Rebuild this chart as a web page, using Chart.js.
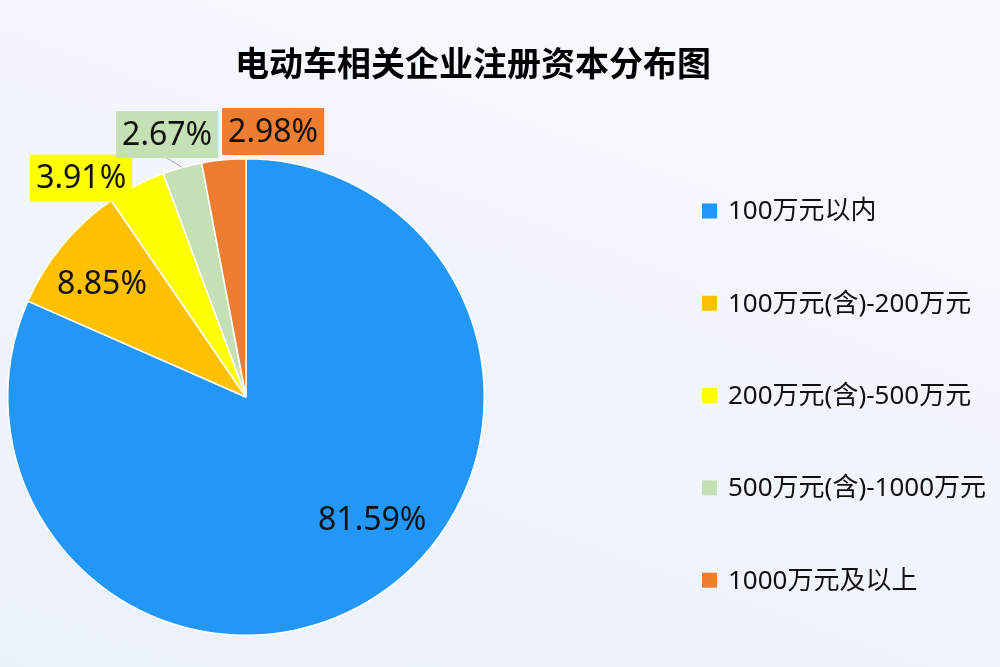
<!DOCTYPE html>
<html>
<head>
<meta charset="utf-8">
<script src="https://cdn.jsdelivr.net/npm/chart.js@4.4.0/dist/chart.umd.min.js"></script>
<style>
  html, body { margin: 0; padding: 0; }
  body {
    width: 1000px; height: 667px; overflow: hidden;
    background: linear-gradient(20deg, #ebf1fb 0%, #f1f5fc 50%, #f8fafe 100%);
  }
  canvas { display: block; }
</style>
</head>
<body>
<canvas id="pie" width="1000" height="667"></canvas>
<script>
// --- DATA ---
const chartTitle = '电动车相关企业注册资本分布图';
const categories = ['100万元以内', '100万元(含)-200万元', '200万元(含)-500万元', '500万元(含)-1000万元', '1000万元及以上'];
const shares = [81.59, 8.85, 3.91, 2.67, 2.98];
const sliceColors = ['#2397F7', '#FFC000', '#FFFF00', '#C5E0B4', '#ED7D31'];

// label placement: fraction of radius, degree shift from slice middle, boxed or not
const labelDist = [0.74, 0.77, 1.15, 1.15, 1.12];
const labelShift = [-12.6, -1.4, -9.6, -1.2, 11.2];
const labelBoxed = [false, false, true, true, true];
const labelLeader = [false, false, false, true, false];

const FONT = '"Noto Sans", "Noto Sans CJK SC", sans-serif';

const decorPlugin = {
  id: 'decor',
  afterDraw(chart) {
    const ctx = chart.ctx;
    ctx.save();

    // title
    ctx.fillStyle = '#000';
    ctx.font = 'bold 34px "Noto Sans CJK SC", sans-serif';
    ctx.textAlign = 'center';
    ctx.textBaseline = 'middle';
    ctx.fillText(chartTitle, 473, 63);

    // percentage labels
    const arcs = chart.getDatasetMeta(0).data;
    ctx.font = '32px ' + FONT;
    arcs.forEach((arc, i) => {
      const mid = (arc.startAngle + arc.endAngle) / 2;
      const a = mid + labelShift[i] * Math.PI / 180;
      const r = arc.outerRadius;
      const lx = arc.x + Math.cos(a) * r * labelDist[i];
      const ly = arc.y + Math.sin(a) * r * labelDist[i];
      const text = shares[i].toFixed(2) + '%';
      const w = ctx.measureText(text).width;
      const boxW = w + 12, boxH = 47;
      if (labelLeader[i]) {
        ctx.strokeStyle = '#a6a6a6';
        ctx.lineWidth = 1;
        ctx.beginPath();
        ctx.moveTo(arc.x + Math.cos(mid) * r, arc.y + Math.sin(mid) * r);
        ctx.lineTo(lx, ly + boxH / 2);
        ctx.stroke();
      }
      if (labelBoxed[i]) {
        ctx.fillStyle = sliceColors[i];
        ctx.fillRect(lx - boxW / 2, ly - boxH / 2, boxW, boxH);
      }
      ctx.fillStyle = '#111';
      ctx.textAlign = 'center';
      ctx.textBaseline = 'middle';
      ctx.fillText(text, lx, ly + 1);
    });

    // legend
    ctx.font = '26px ' + FONT;
    ctx.textAlign = 'left';
    ctx.textBaseline = 'middle';
    categories.forEach((name, i) => {
      const y = 211 + i * 92.3;
      ctx.fillStyle = sliceColors[i];
      ctx.fillRect(702, y - 7.5, 15, 15);
      ctx.fillStyle = '#111';
      ctx.fillText(name, 728, y + 1);
    });

    ctx.restore();
  }
};

new Chart(document.getElementById('pie'), {
  type: 'pie',
  data: {
    labels: categories,
    datasets: [{
      data: shares,
      backgroundColor: sliceColors,
      borderColor: '#ffffff',
      borderWidth: 1.5
    }]
  },
  options: {
    responsive: false,
    animation: false,
    devicePixelRatio: 1,
    layout: { padding: { left: 7, right: 515, top: 158, bottom: 31 } },
    plugins: {
      legend: { display: false },
      title: { display: false },
      tooltip: { enabled: false }
    }
  },
  plugins: [decorPlugin]
});
</script>
</body>
</html>
